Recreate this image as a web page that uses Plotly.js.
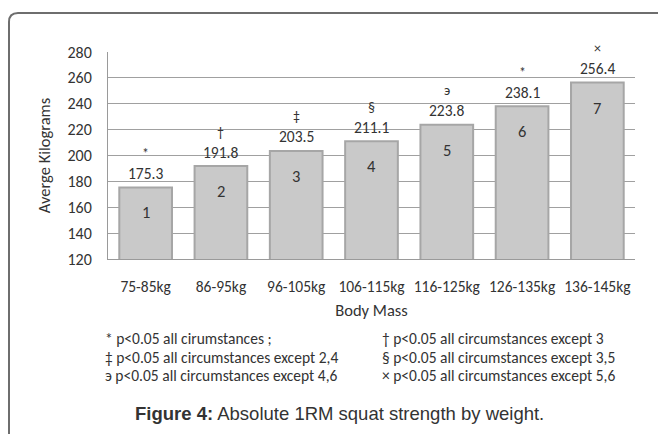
<!DOCTYPE html>
<html><head><meta charset="utf-8">
<script src="https://cdn.plot.ly/plotly-3.0.1.min.js"></script>
<style>html,body{margin:0;padding:0;background:#fff}#c{width:658px;height:434px}</style>
</head><body><div id="c"></div>
<script>
const categories = ["75-85kg","86-95kg","96-105kg","106-115kg","116-125kg","126-135kg","136-145kg"];
const values = [175.3,191.8,203.5,211.1,223.8,238.1,256.4];
const barNumbers = ["1","2","3","4","5","6","7"];
const symbols = ["*","\u2020","\u2021","\u00a7","\u044d","*","\u00d7"];
const yTicks = [120,140,160,180,200,220,240,260,280];
const footLeft = ["* p<0.05 all cirumstances ;","\u2021 p<0.05 all circumstances except 2,4","\u044d p<0.05 all circumstances except 4,6"];
const footRight = ["\u2020 p<0.05 all circumstances except 3","\u00a7 p<0.05 all circumstances except 3,5","\u00d7 p<0.05 all circumstances except 5,6"];
const caption = "<b>Figure 4:</b> Absolute 1RM squat strength by weight.";

const FONT = "Carlito, Lato, 'Open Sans', sans-serif";
const TXT = "#333";
const FS = 15.5;
const L=108, R=23, T=52, B=175, W=658-L-R, H=434-T-B;
const px = x => (x-L)/W, py = y => (434-B-y)/H;

const ann = [];
categories.forEach((c,i)=>{
  ann.push({x:c,y:values[i],xref:'x',yref:'y',text:values[i].toFixed(1),showarrow:false,yshift:14,font:{family:FONT,size:15.5,color:TXT}});
  ann.push({x:c,y:values[i],xref:'x',yref:'y',text:symbols[i],showarrow:false,yshift:34,font:{family:FONT,size:14,color:TXT}});
  ann.push({x:c,y:values[i],xref:'x',yref:'y',text:barNumbers[i],showarrow:false,yshift:-25,font:{family:FONT,size:16.5,color:TXT}});
});
const rowsY=[338,357,376];
footLeft.forEach((t,i)=>ann.push({x:px(103),y:py(rowsY[i]),xref:'paper',yref:'paper',xanchor:'left',yanchor:'middle',text:t,showarrow:false,font:{family:FONT,size:15.5,color:TXT}}));
footRight.forEach((t,i)=>ann.push({x:px(380),y:py(rowsY[i]),xref:'paper',yref:'paper',xanchor:'left',yanchor:'middle',text:t,showarrow:false,font:{family:FONT,size:15.5,color:TXT}}));
ann.push({x:px(339),y:py(413),xref:'paper',yref:'paper',xanchor:'center',yanchor:'middle',text:caption,showarrow:false,font:{family:"'Liberation Sans', Arial, sans-serif",size:18.5,color:"#333"}});

const frame = `M ${px(9)},${py(434)} L ${px(9)},${py(22)} Q ${px(9)},${py(13)} ${px(18)},${py(13)} L ${px(660)},${py(13)}`;

const data=[{type:'bar',x:categories,y:values,width:0.7,
  marker:{color:'#c9c9c9',line:{color:'#a6a6a6',width:2}},hoverinfo:'skip'}];

const layout={width:658,height:434,margin:{l:L,r:R,t:T,b:B},
  paper_bgcolor:'#fff',plot_bgcolor:'#fff',showlegend:false,
  font:{family:FONT,size:FS,color:TXT},
  xaxis:{type:'category',showgrid:false,showline:true,linecolor:'#9a9a9a',linewidth:1,ticks:'',ticklabelstandoff:13,
    tickfont:{family:FONT,size:FS,color:TXT},
    title:{text:'Body Mass',font:{family:FONT,size:16.5,color:TXT},standoff:9},automargin:false},
  yaxis:{range:[120,280],tickvals:yTicks,showgrid:true,gridcolor:'#a0a0a0',gridwidth:1,showline:true,linecolor:'#9a9a9a',linewidth:1,
    ticks:'',ticklabelstandoff:12,zeroline:false,tickfont:{family:FONT,size:16,color:TXT},
    title:{text:'Averge Kilograms',font:{family:FONT,size:16.5,color:TXT},standoff:12},automargin:false},
  annotations:ann,
  shapes:[{type:'path',xref:'paper',yref:'paper',path:frame,line:{color:'#6e6e6e',width:2},layer:'above'}]
};
Plotly.newPlot('c',data,layout,{staticPlot:true,displayModeBar:false});
</script></body></html>
